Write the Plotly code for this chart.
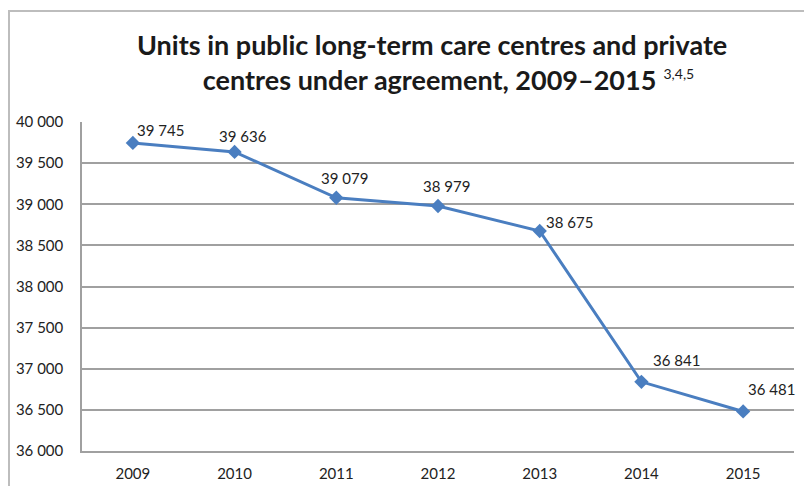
import plotly.graph_objects as go

years = ["2009", "2010", "2011", "2012", "2013", "2014", "2015"]
units = [39745, 39636, 39079, 38979, 38675, 36841, 36481]
y_ticks = [36000, 36500, 37000, 37500, 38000, 38500, 39000, 39500, 40000]

# label placement (pixels, label centre relative to marker) - style only
label_dx = [28, 8, 8, 8, 30, 35, 28]
label_dy = [13, 16, 20, 20, 9, 22, 22]

# the page body has an 8px margin, so the figure starts at page (8, 8)
OFF = 8
W, H = 812, 486
L, R, T, B = 82 - OFF, 812 - (794 - OFF), 122 - OFF, 486 - (451 - OFF)
pw, ph = W - L - R, H - T - B

def px_x(x):  # page x -> paper
    return (x - OFF - L) / pw

def px_y(y):  # page y -> paper
    return (H - B - (y - OFF)) / ph

fig = go.Figure()
fig.add_trace(go.Scatter(
    x=years, y=units, mode="lines+markers",
    line=dict(color="#4A7EC0", width=3),
    marker=dict(symbol="diamond", size=11, color="#4A7EC0"),
    cliponaxis=False, hoverinfo="skip", showlegend=False,
))

annotations = [dict(
    x=i, y=v, xref="x", yref="y", text=f"{v:,}".replace(",", " "),
    showarrow=False, xanchor="center", yanchor="middle",
    xshift=dx, yshift=dy,
    font=dict(family="Lato", size=15, color="#222222"),
) for i, (v, dx, dy) in enumerate(zip(units, label_dx, label_dy))]

annotations.append(dict(
    text="<b>Units in public long-term care centres and private</b><br>"
         "<b>&nbsp;&nbsp;&nbsp;&nbsp;&nbsp;centres under agreement, 2009–2015</b>"
         "<sup><span style='font-size:14px'>  3,4,5</span></sup>",
    xref="paper", yref="paper", x=px_x(432), y=px_y(62),
    xanchor="center", yanchor="middle", showarrow=False,
    font=dict(family="Lato", size=27, color="#1a1a1a"), align="center",
))

fig.update_layout(
    width=W, height=H,
    margin=dict(l=L, r=R, t=T, b=B, autoexpand=False),
    paper_bgcolor="white", plot_bgcolor="white",
    separators=". ",
    font=dict(family="Lato", color="#222222"),
    annotations=annotations,
    shapes=[dict(type="rect", xref="paper", yref="paper",
                 x0=px_x(9), x1=px_x(810), y0=-0.3, y1=px_y(11),
                 line=dict(color="#BDBDBD", width=2), fillcolor="rgba(0,0,0,0)", layer="below")],
)
fig.update_xaxes(
    type="category", range=[-0.5, 6.5], showgrid=False, automargin=False,
    showline=True, linecolor="#A0A0A0", linewidth=1.5,
    ticks="", tickfont=dict(family="Lato", size=15, color="#222222"),
    ticklabelstandoff=8,
)
fig.update_yaxes(
    range=[36000, 40000], tickvals=y_ticks, tickformat=",", automargin=False,
    showgrid=True, gridcolor="#A0A0A0", gridwidth=1.5,
    showline=True, linecolor="#A0A0A0", linewidth=1.5,
    ticks="", tickfont=dict(family="Lato", size=15, color="#222222"),
    ticklabelstandoff=14, zeroline=False,
)

fig.write_html("out.html")
